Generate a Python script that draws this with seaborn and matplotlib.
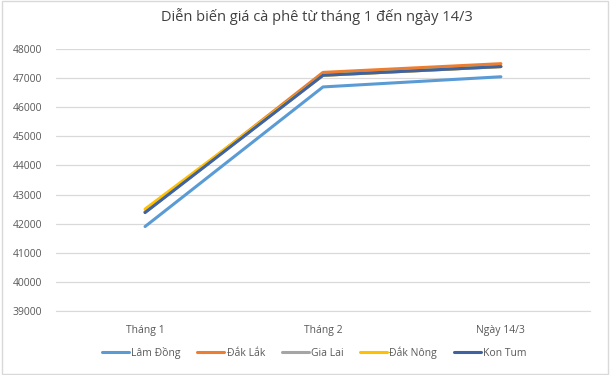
import pandas as pd
import matplotlib
matplotlib.use("Agg")
import matplotlib.pyplot as plt
import seaborn as sns

periods = ["Tháng 1", "Tháng 2", "Ngày 14/3"]
provinces = ["Lâm Đồng", "Đắk Lắk", "Gia Lai", "Đắk Nông", "Kon Tum"]
lam_dong = [41900, 46700, 47050]
dak_lak = [42400, 47200, 47500]
gia_lai = [42400, 47100, 47400]
dak_nong = [42500, 47100, 47400]
kon_tum = [42380, 47100, 47400]
colors = ["#5B9BD5", "#ED7D31", "#A5A5A5", "#FFC000", "#3F62A0"]

rows = []
for name, vals in zip(provinces, [lam_dong, dak_lak, gia_lai, dak_nong, kon_tum]):
    for p, v in zip(periods, vals):
        rows.append({"period": p, "price": v, "province": name})
df = pd.DataFrame(rows)

sns.set_style("white")
plt.rcParams["font.family"] = ["Open Sans", "DejaVu Sans"]

fig = plt.figure(figsize=(6.1, 3.75), dpi=100)
ax = fig.add_axes([0.092, 0.171, 0.875, 0.698])

sns.lineplot(data=df, x="period", y="price", hue="province", hue_order=provinces,
             palette=colors, linewidth=2.2, sort=False, ax=ax, legend=False)

ax.set_xlim(-0.5, 2.5)
ax.set_ylim(39000, 48000)
ax.set_yticks(range(39000, 48001, 1000))
ax.grid(axis="y", color="#D9D9D9", linewidth=0.9)
ax.set_axisbelow(True)
for s in ["top", "right", "left"]:
    ax.spines[s].set_visible(False)
ax.spines["bottom"].set_color("#D9D9D9")
ax.tick_params(axis="both", length=0, labelsize=7.5, labelcolor="#595959", pad=10)
ax.set_xlabel("")
ax.set_ylabel("")

fig.text(0.52, 0.955, "Diễn biến giá cà phê từ tháng 1 đến ngày 14/3",
         ha="center", va="center", fontsize=10.5, color="#404040")

handles = [plt.Line2D([], [], color=c, linewidth=2.2) for c in colors]
fig.legend(handles, provinces, loc="center", bbox_to_anchor=(0.515, 0.06), ncol=5,
           frameon=False, fontsize=7.5, handlelength=2.6, handletextpad=0.2,
           columnspacing=1.6, labelcolor="#595959")

fig.patches.append(plt.Rectangle((0.003, 0.003), 0.994, 0.994, transform=fig.transFigure,
                                 fill=False, edgecolor="#D9D9D9", linewidth=1))

fig.savefig("out.png", dpi=100)
